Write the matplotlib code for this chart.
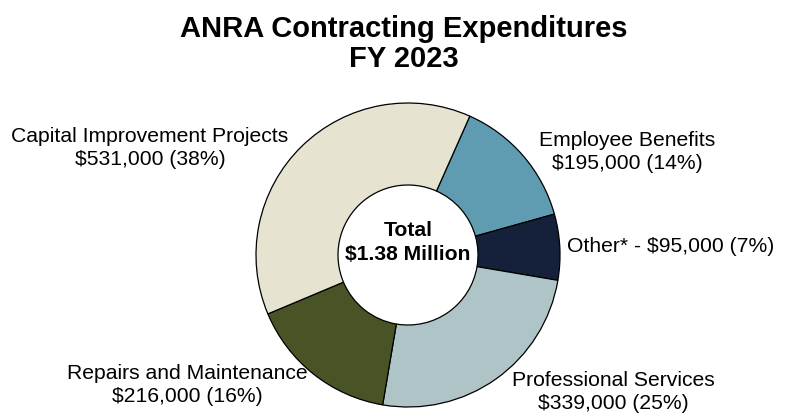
import matplotlib.pyplot as plt

plt.rcParams['font.family'] = ['Liberation Sans', 'DejaVu Sans']

# slices, clockwise from Employee Benefits
categories = ['Employee Benefits', 'Other*', 'Professional Services',
              'Repairs and Maintenance', 'Capital Improvement Projects']
amounts = [195000, 95000, 339000, 216000, 531000]
percents = [14, 7, 25, 16, 38]
colors = ['#5f9bb1', '#15213a', '#afc4c6', '#495426', '#e6e4d0']

fig = plt.figure(figsize=(7.87, 4.17), dpi=100)
ax = fig.add_axes([0, 0, 1, 1])

cx, cy, r = 408, 417 - 255, 152
ax.pie(percents, colors=colors, startangle=66, counterclock=False,
       center=(cx, cy), radius=r, frame=True,
       wedgeprops=dict(width=r - 70, edgecolor='black', linewidth=0.9))
ax.set_xlim(0, 787)
ax.set_ylim(0, 417)
ax.set_aspect('equal')
ax.axis('off')


def lab(i):
    return f'${amounts[i]:,.0f} ({percents[i]}%)'


fs = 15.2
kw = dict(va='center', fontsize=fs, linespacing=1.27)
ax.text(150, 417 - 148, categories[4] + '\n' + lab(4), ha='center', **kw)
ax.text(627, 417 - 152, categories[0] + '\n' + lab(0), ha='center', **kw)
ax.text(567, 417 - 246, categories[1] + ' - ' + lab(1), ha='left', **kw)
ax.text(613, 417 - 392, categories[2] + '\n' + lab(2), ha='center', **kw)
ax.text(187, 417 - 385, categories[3] + '\n' + lab(3), ha='center', **kw)

ax.text(cx, 417 - 230, 'Total', ha='center', va='center', fontsize=15.2, fontweight='bold')
ax.text(cx, 417 - 255, '$1.38 Million', ha='center', va='center', fontsize=15.2, fontweight='bold')

ax.text(404, 417 - 29, 'ANRA Contracting Expenditures', ha='center', va='center',
        fontsize=21, fontweight='bold')
ax.text(404, 417 - 59, 'FY 2023', ha='center', va='center', fontsize=21, fontweight='bold')

fig.savefig('out.png', dpi=100)
